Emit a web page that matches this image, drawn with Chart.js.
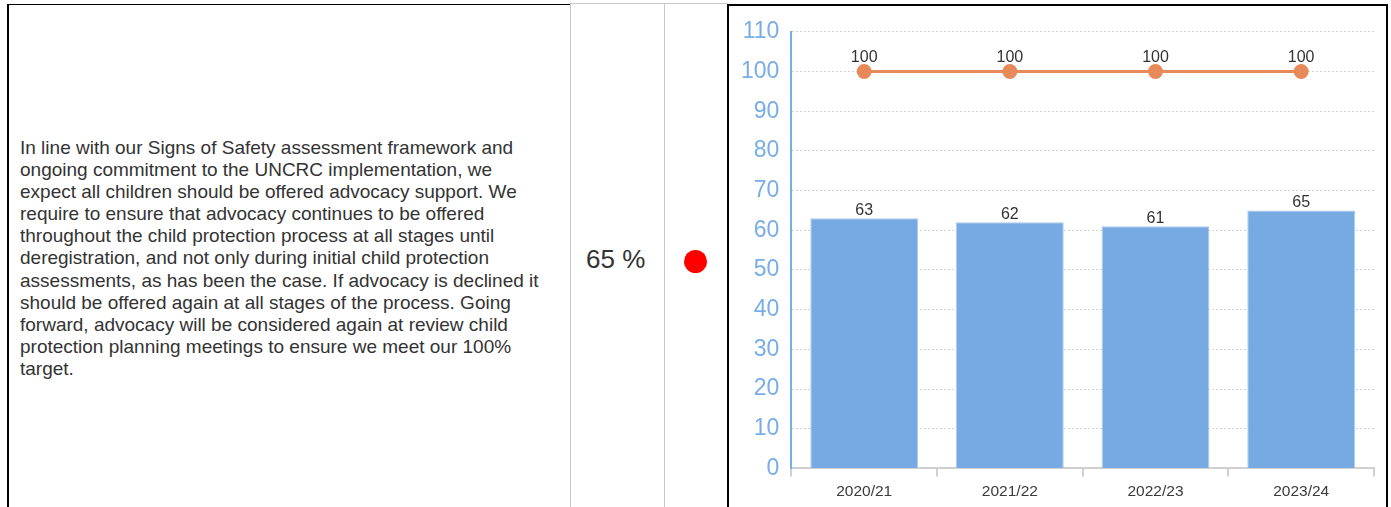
<!DOCTYPE html>
<html>
<head>
<meta charset="utf-8">
<script src="https://cdn.jsdelivr.net/npm/chart.js@4/dist/chart.umd.min.js"></script>
<style>
    html, body { margin: 0; padding: 0; background: #fff; }
    body { width: 1391px; height: 507px; position: relative; overflow: hidden; font-family: "Liberation Sans", Arial, sans-serif; }
    .cellText { position: absolute; left: 7px; top: 4px; width: 563px; height: 510px; border-left: 2px solid #000; border-top: 1.5px solid #000; box-sizing: border-box; }
    .cellText p { position: absolute; left: 11px; top: 132px; width: 525px; margin: 0; font-size: 19px; line-height: 22.1px; color: #333; }
    .cellValue { position: absolute; left: 570px; top: 3px; width: 95px; height: 510px; border-left: 1px solid #c8c8c8; border-top: 1px solid #c8c8c8; box-sizing: border-box; }
    .cellValue span { position: absolute; left: 15px; top: 240px; font-size: 26px; color: #333; }
    .cellStatus { position: absolute; left: 664px; top: 3px; width: 64px; height: 510px; border-left: 1px solid #c8c8c8; border-top: 1px solid #c8c8c8; box-sizing: border-box; }
    .dot { position: absolute; left: 19px; top: 246px; width: 23px; height: 23px; border-radius: 50%; background: #ff0000; }
    .cellChart { position: absolute; left: 727px; top: 4px; width: 661px; height: 510px; border: 2px solid #000; border-bottom: none; box-sizing: border-box; }
    .chartBox { position: absolute; left: 0; top: 0; width: 657px; height: 503px; }
</style>
</head>
<body>
<div class="cellText">
    <p>In line with our Signs of Safety assessment framework and ongoing commitment to the UNCRC implementation, we expect all children should be offered advocacy support. We require to ensure that advocacy continues to be offered throughout the child protection process at all stages until deregistration, and not only during initial child protection assessments, as has been the case. If advocacy is declined it should be offered again at all stages of the process. Going forward, advocacy will be considered again at review child protection planning meetings to ensure we meet our 100% target.</p>
</div>
<div class="cellValue"><span>65 %</span></div>
<div class="cellStatus"><div class="dot"></div></div>
<div class="cellChart">
    <div class="chartBox"><canvas id="myChart"></canvas></div>
</div>

<script>
const years = ['2020/21', '2021/22', '2022/23', '2023/24'];
const actual = [63, 62, 61, 65];
const target = [100, 100, 100, 100];
const yMin = 0, yMax = 110, yStep = 10;

// draws the value above each bar / point (no datalabels plugin offline)
const valueLabels = {
    id: 'valueLabels',
    afterDatasetsDraw(chart) {
        const ctx = chart.ctx;
        ctx.save();
        ctx.font = '16px "Liberation Sans", Arial, sans-serif';
        ctx.fillStyle = '#333';
        ctx.textAlign = 'center';
        ctx.textBaseline = 'middle';
        chart.data.datasets.forEach((ds, i) => {
            const meta = chart.getDatasetMeta(i);
            const lift = ds.type === 'line' ? 14 : 8;
            meta.data.forEach((el, j) => {
                ctx.fillText(ds.data[j], el.x, el.y - lift);
            });
        });
        ctx.restore();
    }
};

const graph = document.querySelector('#myChart');

new Chart(graph.getContext('2d'), {
    type: 'bar',
    data: {
        labels: years,
        datasets: [
            {
                type: 'line',
                label: 'Target',
                data: target,
                borderColor: '#e8895a',
                backgroundColor: '#e8895a',
                borderWidth: 3,
                pointRadius: 6,
                pointHoverRadius: 6,
                order: 0
            },
            {
                label: 'Actual',
                data: actual,
                backgroundColor: '#77aae2',
                borderColor: '#a9cbee',
                borderWidth: 1,
                categoryPercentage: 1,
                barPercentage: 0.74,
                order: 1
            }
        ]
    },
    options: {
        responsive: true,
        maintainAspectRatio: false,
        animation: false,
        layout: { padding: { left: 0, right: 12, top: 25, bottom: 2 } },
        plugins: {
            legend: { display: false },
            tooltip: { enabled: false }
        },
        scales: {
            x: {
                grid: {
                    offset: true,
                    drawOnChartArea: false,
                    drawTicks: true,
                    tickLength: 8,
                    color: '#d0d0d0',
                    lineWidth: 2
                },
                border: { color: '#d0d0d0', width: 2 },
                ticks: {
                    color: '#3a3a3a',
                    padding: 6,
                    font: { family: '"Liberation Sans", Arial, sans-serif', size: 15.5 }
                }
            },
            y: {
                min: yMin,
                max: yMax,
                ticks: {
                    stepSize: yStep,
                    color: '#78ade6',
                    padding: 12,
                    font: { family: '"Liberation Sans", Arial, sans-serif', size: 23 }
                },
                grid: {
                    drawTicks: false,
                    color: '#d4d4d4',
                    lineWidth: 1
                },
                border: { color: '#78ade6', width: 2, dash: [2, 2] }
            }
        }
    },
    plugins: [valueLabels]
});
</script>
</body>
</html>
